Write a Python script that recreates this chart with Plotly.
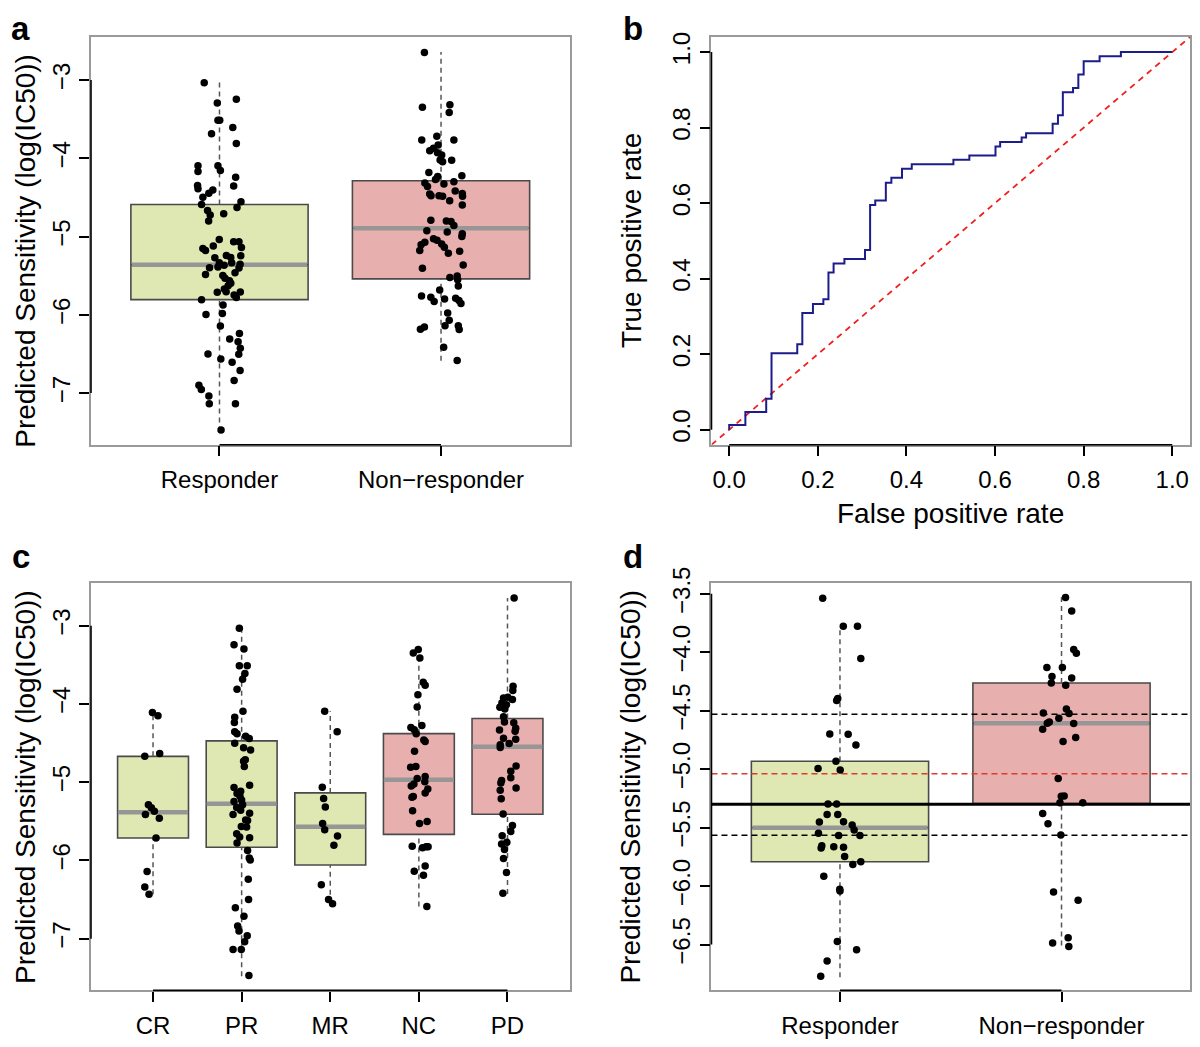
import plotly.graph_objects as go

# The page body has an 8px margin: the figure is sized to fit inside the window without scrolling
OFF = 8
FW, FH = 1200 - 2 * OFF, 1047 - 2 * OFF
FONT = "Liberation Sans, Arial, Helvetica, sans-serif"

# ---------------- data ----------------
# Panel a : Responder vs Non-responder
a_labels = ["Responder", "Non\u2212responder"]
a_q1 = [-5.806, -5.540]
a_med = [-5.360, -4.893]
a_q3 = [-4.590, -4.287]
a_lo = [-7.49, -6.588]
a_hi = [-3.02, -2.642]

a_resp_y = [-3.034, -3.244, -3.294, -3.513, -3.513, -3.606, -3.686, -3.812, -4.094, -4.169,
            -4.094, -4.157, -4.241, -4.354, -4.346, -4.388, -4.405, -4.447, -4.497, -4.556,
            -4.628, -4.590, -4.666, -4.708, -4.725, -4.800, -5.036, -5.065, -5.065, -5.154,
            -5.120, -5.179, -5.141, -5.271, -5.242, -5.267, -5.246, -5.334, -5.368, -5.334,
            -5.355, -5.389, -5.397, -5.402, -5.461, -5.486, -5.498, -5.532, -5.566, -5.595,
            -5.629, -5.671, -5.705, -5.713, -5.709, -5.747, -5.780, -5.806, -5.873, -5.995,
            -5.982, -6.142, -6.239, -6.310, -6.344, -6.428, -6.504, -6.500, -6.563, -6.605,
            -6.710, -6.840, -6.899, -6.954, -7.038, -7.135, -7.135, -7.471]
a_resp_dx = [-0.069, 0.076, -0.010, -0.007, 0.001, 0.060, -0.036, 0.076, -0.097, -0.097,
             -0.007, 0.004, 0.073, 0.064, -0.099, -0.097, -0.030, -0.048, -0.075, 0.097,
             0.079, -0.081, -0.054, 0.019, -0.042, -0.049, -0.001, 0.064, 0.088, -0.075,
             -0.028, -0.063, 0.099, -0.021, 0.031, 0.051, 0.096, -0.001, 0.021, 0.055,
             0.093, -0.007, -0.045, 0.088, 0.070, -0.063, 0.015, 0.025, 0.045, 0.051,
             0.039, 0.022, 0.030, -0.010, 0.094, 0.066, 0.076, -0.081, 0.016, -0.061,
             0.013, 0.004, 0.090, 0.046, 0.084, 0.094, 0.087, -0.052, 0.006, 0.057,
             0.093, 0.066, -0.093, -0.082, -0.048, -0.046, 0.072, 0.007]

a_non_y = [-2.647, -3.349, -3.315, -3.416, -3.766, -3.719, -3.766, -3.829, -3.871, -3.904,
           -3.930, -3.959, -4.022, -4.043, -4.026, -4.182, -4.232, -4.224, -4.270, -4.317,
           -4.329, -4.300, -4.359, -4.418, -4.451, -4.455, -4.480, -4.480, -4.484, -4.484,
           -4.543, -4.598, -4.792, -4.800, -4.809, -4.859, -4.926, -4.943, -4.964, -4.998,
           -5.027, -5.048, -5.074, -5.103, -5.095, -5.137, -5.179, -5.212, -5.187, -5.406,
           -5.364, -5.524, -5.503, -5.553, -5.633, -5.683, -5.759, -5.776, -5.831, -5.797,
           -5.788, -5.818, -5.856, -5.978, -6.070, -6.138, -6.138, -6.188, -6.184, -6.155,
           -6.415, -6.584]
a_non_dx = [-0.075, -0.084, 0.040, 0.037, -0.087, -0.019, 0.058, -0.013, -0.034, -0.051,
            -0.016, 0.003, -0.004, 0.007, 0.048, -0.055, -0.015, 0.094, -0.025, -0.073,
            0.013, 0.058, -0.061, 0.064, 0.096, -0.051, -0.045, -0.009, 0.007, 0.097,
            0.039, 0.096, -0.046, 0.024, 0.045, 0.058, -0.064, 0.028, 0.096, 0.094,
            -0.034, -0.018, -0.073, -0.090, 0.003, 0.015, -0.096, 0.033, 0.084, -0.084,
            0.100, 0.040, 0.073, 0.075, 0.078, -0.006, -0.088, -0.046, -0.031, 0.016,
            0.066, 0.081, 0.090, 0.030, 0.037, 0.018, 0.078, 0.082, -0.093, -0.075,
            0.012, 0.073]

# Panel b : ROC curve (step corners)
roc_fpr = [0.0, 0.0, 0.0365, 0.0835, 0.0955, 0.1536, 0.165, 0.189, 0.2125, 0.224, 0.2356,
           0.260, 0.3065, 0.318, 0.3296, 0.3535, 0.366, 0.390, 0.412, 0.506, 0.542, 0.601,
           0.6115, 0.660, 0.670, 0.730, 0.742, 0.753, 0.776, 0.788, 0.800, 0.836, 0.884, 1.0]
roc_tpr = [0.0, 0.012, 0.047, 0.082, 0.2025, 0.226, 0.309, 0.333, 0.3455, 0.416, 0.44,
           0.452, 0.476, 0.595, 0.607, 0.654, 0.667, 0.691, 0.703, 0.715, 0.726, 0.750,
           0.762, 0.774, 0.785, 0.810, 0.833, 0.8935, 0.905, 0.941, 0.976, 0.989, 1.0, 1.0]

# Panel c : response categories
c_labels = ["CR", "PR", "MR", "NC", "PD"]
c_q1 = [-5.713, -5.831, -6.058, -5.667, -5.410]
c_med = [-5.385, -5.276, -5.570, -4.968, -4.548]
c_q3 = [-4.670, -4.472, -5.137, -4.380, -4.186]
c_lo = [-6.432, -7.48, -6.554, -6.588, -6.428]
c_hi = [-4.094, -3.034, -4.094, -3.303, -2.647]

c_cr_y = [-4.110, -4.152, -4.670, -4.632, -5.288, -5.326, -5.372, -5.414, -5.461, -5.713,
          -6.142, -6.340, -6.432]
c_cr_dx = [-0.007, 0.056, -0.093, 0.075, -0.052, -0.019, 0.015, -0.086, 0.071, 0.034,
           -0.067, -0.093, -0.045]
c_pr_y = [-3.034, -3.244, -3.299, -3.513, -3.513, -3.610, -3.686, -3.812, -4.094, -4.169,
          -4.237, -4.354, -4.380, -4.413, -4.443, -4.502, -4.560, -4.590, -4.712, -4.733,
          -4.800, -5.040, -5.069, -5.116, -5.145, -5.246, -5.179, -5.229, -5.288, -5.322,
          -5.360, -5.414, -5.397, -5.482, -5.490, -5.566, -5.574, -5.658, -5.700, -5.709,
          -5.776, -5.873, -5.970, -5.995, -6.239, -6.500, -6.605, -6.714, -6.836, -6.903,
          -6.962, -7.038, -7.139, -7.139, -7.471]
c_pr_dx = [-0.026, -0.086, 0.026, -0.026, 0.063, 0.037, 0.011, -0.052, 0.015, -0.078,
           -0.082, -0.078, -0.052, 0.045, 0.086, -0.078, 0.022, 0.101, 0.041, 0.022,
           0.030, 0.090, -0.086, -0.011, -0.052, -0.086, -0.019, 0.000, 0.011, -0.056,
           -0.011, -0.097, 0.090, 0.045, 0.067, -0.004, 0.056, -0.056, -0.022, 0.090,
           -0.052, 0.067, 0.086, 0.097, 0.075, 0.078, -0.071, 0.026, -0.045, -0.030,
           0.063, 0.034, -0.097, -0.004, 0.082]
c_mr_y = [-4.094, -4.354, -5.065, -5.208, -5.318, -5.528, -5.608, -5.688, -5.806, -6.310,
          -6.500, -6.554]
c_mr_dx = [-0.063, 0.078, -0.090, -0.075, -0.056, -0.086, -0.063, 0.082, 0.041, -0.101,
           -0.019, 0.026]
c_nc_y = [-3.349, -3.303, -3.412, -3.723, -3.761, -3.883, -4.039, -4.274, -4.300, -4.329,
          -4.380, -4.460, -4.481, -4.603, -4.809, -4.800, -4.952, -4.926, -4.994, -5.048,
          -5.023, -5.086, -5.137, -5.183, -5.191, -5.364, -5.528, -5.503, -5.818, -5.839,
          -5.826, -5.826, -6.070, -6.138, -6.188, -6.588]
c_nc_dx = [-0.063, -0.007, 0.011, 0.049, 0.071, -0.011, -0.019, 0.034, -0.090, -0.052,
           -0.030, 0.056, 0.071, -0.049, -0.093, -0.034, -0.019, 0.071, 0.067, -0.086,
           -0.056, 0.101, 0.071, -0.063, -0.078, -0.071, 0.007, 0.093, -0.075, 0.041,
           0.082, 0.104, 0.071, -0.052, 0.052, 0.090]
c_pd_y = [-2.647, -3.774, -3.829, -3.925, -3.913, -3.942, -3.988, -4.009, -4.043, -4.064,
          -4.165, -4.232, -4.241, -4.312, -4.333, -4.350, -4.438, -4.451, -4.506, -4.523,
          -4.556, -4.792, -4.859, -4.977, -5.010, -4.943, -5.074, -5.103, -5.212, -5.406,
          -5.553, -5.629, -5.683, -5.768, -5.789, -5.860, -5.974, -6.155, -6.420]
c_pd_dx = [0.075, 0.063, 0.060, -0.045, 0.004, 0.056, -0.063, -0.011, -0.086, -0.030,
           -0.045, -0.034, 0.071, 0.093, -0.090, 0.086, -0.045, 0.093, 0.019, -0.082,
           -0.082, 0.097, 0.037, -0.067, -0.075, 0.037, 0.097, -0.082, -0.071, -0.049,
           0.056, 0.037, -0.060, -0.007, -0.067, -0.034, -0.045, -0.011, -0.052]

# Panel d : validation cohort
d_labels = ["Responder", "Non\u2212responder"]
d_q1 = [-5.792, -5.294]
d_med = [-5.500, -4.608]
d_q3 = [-4.932, -4.263]
d_lo = [-6.78, -6.508]
d_hi = [-3.78, -3.529]
d_cut_solid = -5.30
d_cut_red = -5.04
d_cut_dashed = [-4.531, -5.565]

d_resp_y = [-3.537, -3.777, -3.777, -4.054, -4.395, -4.412, -4.698, -4.701, -4.794, -4.932,
            -4.994, -5.006, -5.297, -5.297, -5.387, -5.387, -5.452, -5.449, -5.477, -5.520,
            -5.548, -5.568, -5.568, -5.655, -5.675, -5.664, -5.667, -5.746, -5.816, -5.791,
            -5.915, -6.042, -6.028, -6.475, -6.545, -6.641, -6.771]
d_resp_dx = [-0.078, 0.015, 0.079, 0.094, -0.010, -0.015, -0.046, 0.037, 0.072, -0.018,
             -0.099, 0.001, -0.054, -0.015, -0.058, -0.010, -0.093, 0.016, 0.055, 0.064,
             -0.097, -0.006, 0.090, -0.082, -0.085, -0.028, 0.016, 0.021, 0.058, 0.094,
             -0.073, 0.000, -0.001, -0.012, 0.075, -0.058, -0.087]
d_non_y = [-3.531, -3.647, -3.975, -4.008, -4.130, -4.130, -4.206, -4.220, -4.263, -4.282,
           -4.486, -4.523, -4.520, -4.565, -4.596, -4.607, -4.610, -4.658, -4.729, -4.763,
           -5.079, -5.232, -5.229, -5.288, -5.288, -5.379, -5.466, -5.562, -6.051, -6.121,
           -6.486, -6.441, -6.517]
d_non_dx = [0.018, 0.046, 0.055, 0.067, -0.066, 0.004, -0.043, 0.046, -0.046, 0.019,
            0.022, 0.034, -0.082, -0.012, -0.055, -0.064, 0.055, -0.085, 0.064, 0.007,
            -0.015, -0.001, 0.012, -0.007, 0.096, -0.085, -0.061, -0.003, -0.036, 0.075,
            -0.040, 0.030, 0.033]

# ---------------- styles ----------------
GREEN = "#dfe8b2"
PINK = "#e8afaf"
BOX_LINE = "#4a4a4a"
MED = "#969696"
FRAME = "#9a9a9a"
BOXW = 0.8

# layout positions given in reference pixels, mapped gently into the visible page area
SX = (1190 - 91) / (1198 - 91)
SY = (1037 - 37) / (1045 - 37)


def px(x):
    page = 91 + (x - 91) * SX
    return (page - OFF) / FW


def py(y):
    page = 37 + (y - 37) * SY
    return 1 - (page - OFF) / FH


XDOM_L = [px(91), px(573)]
XDOM_R = [px(716), px(1198)]
YDOM_T = [py(448), py(37)]
YDOM_B = [py(998), py(587)]

RA_X = [0.42, 2.58]
RA_Y = [-7.66, -2.45]
RB = [-0.04, 1.04]
RC_X = [0.3, 5.7]
RD_Y = [-6.892, -3.404]

fig = go.Figure()


def add_boxes(xa, ya, q1, med, q3, lo, hi, colors):
    for i in range(len(q1)):
        pos = i + 1
        fig.add_trace(go.Scatter(x=[pos, pos, None, pos, pos], y=[lo[i], q1[i], None, q3[i], hi[i]],
                                 mode="lines", line=dict(color="#555555", width=1.5, dash="5px,4px"),
                                 xaxis=xa, yaxis=ya, showlegend=False, hoverinfo="skip"))
        fig.add_trace(go.Box(x=[pos], q1=[q1[i]], median=[med[i]], q3=[q3[i]],
                             lowerfence=[q1[i]], upperfence=[q3[i]], width=BOXW,
                             fillcolor=colors[i], line=dict(color=BOX_LINE, width=1.6),
                             whiskerwidth=0, boxpoints=False, xaxis=xa, yaxis=ya,
                             showlegend=False, hoverinfo="skip"))
        fig.add_trace(go.Scatter(x=[pos - BOXW / 2 + 0.005, pos + BOXW / 2 - 0.005], y=[med[i], med[i]],
                                 mode="lines", line=dict(color=MED, width=4.5),
                                 xaxis=xa, yaxis=ya, showlegend=False, hoverinfo="skip"))


def add_points(xa, ya, pos, dx, y):
    fig.add_trace(go.Scatter(x=[pos + d for d in dx], y=y, mode="markers",
                             marker=dict(color="black", size=7.5, line=dict(width=0)),
                             xaxis=xa, yaxis=ya, showlegend=False, hoverinfo="skip"))


# Panel a
add_boxes("x", "y", a_q1, a_med, a_q3, a_lo, a_hi, [GREEN, PINK])
add_points("x", "y", 1, a_resp_dx, a_resp_y)
add_points("x", "y", 2, a_non_dx, a_non_y)

# Panel b
fig.add_trace(go.Scatter(x=RB, y=RB, mode="lines", line=dict(color="#ee2020", width=1.8, dash="6px,5px"),
                         xaxis="x2", yaxis="y2", showlegend=False, hoverinfo="skip"))
fig.add_trace(go.Scatter(x=roc_fpr, y=roc_tpr, mode="lines", line=dict(color="#1c1c8a", width=2, shape="hv"),
                         xaxis="x2", yaxis="y2", showlegend=False, hoverinfo="skip"))

# Panel c
add_boxes("x3", "y3", c_q1, c_med, c_q3, c_lo, c_hi, [GREEN, GREEN, GREEN, PINK, PINK])
for p, dx, y in [(1, c_cr_dx, c_cr_y), (2, c_pr_dx, c_pr_y), (3, c_mr_dx, c_mr_y),
                 (4, c_nc_dx, c_nc_y), (5, c_pd_dx, c_pd_y)]:
    add_points("x3", "y3", p, dx, y)

# Panel d
add_boxes("x4", "y4", d_q1, d_med, d_q3, d_lo, d_hi, [GREEN, PINK])
for v in d_cut_dashed:
    fig.add_trace(go.Scatter(x=RA_X, y=[v, v], mode="lines", line=dict(color="black", width=1.5, dash="6px,4px"),
                             xaxis="x4", yaxis="y4", showlegend=False, hoverinfo="skip"))
fig.add_trace(go.Scatter(x=RA_X, y=[d_cut_red, d_cut_red], mode="lines",
                         line=dict(color="#e03a2e", width=1.5, dash="6px,4px"),
                         xaxis="x4", yaxis="y4", showlegend=False, hoverinfo="skip"))
fig.add_trace(go.Scatter(x=RA_X, y=[d_cut_solid, d_cut_solid], mode="lines",
                         line=dict(color="black", width=2.8),
                         xaxis="x4", yaxis="y4", showlegend=False, hoverinfo="skip"))
add_points("x4", "y4", 1, d_resp_dx, d_resp_y)
add_points("x4", "y4", 2, d_non_dx, d_non_y)

# ---------------- axes ----------------
TICKFONT = dict(family=FONT, size=24, color="black")
common = dict(showline=True, linecolor=FRAME, linewidth=1.5, mirror=True, ticks="outside",
              ticklen=10, tickwidth=1.5, tickcolor="black", showgrid=False, zeroline=False,
              tickfont=TICKFONT, fixedrange=True, automargin=False)
xcommon = dict(common, ticklabelstandoff=3)
ycommon = dict(common, tickangle=-90, ticklabelstandoff=0)

a_ticks = [-3, -4, -5, -6, -7]
b_ticks = [0.0, 0.2, 0.4, 0.6, 0.8, 1.0]
d_ticks = [-3.5, -4.0, -4.5, -5.0, -5.5, -6.0, -6.5]

fig.update_layout(
    width=FW, height=FH, margin=dict(l=0, r=0, t=0, b=0, pad=0),
    paper_bgcolor="white", plot_bgcolor="white", boxmode="overlay",
    xaxis=dict(xcommon, domain=XDOM_L, anchor="y", range=RA_X, tickvals=[1, 2], ticktext=a_labels),
    yaxis=dict(ycommon, domain=YDOM_T, anchor="x", range=RA_Y, tickvals=a_ticks,
               ticktext=["\u2212" + str(-t) for t in a_ticks]),
    xaxis2=dict(xcommon, domain=XDOM_R, anchor="y2", range=RB, tickvals=b_ticks,
                ticktext=[f"{t:.1f}" for t in b_ticks]),
    yaxis2=dict(ycommon, domain=YDOM_T, anchor="x2", range=RB, tickvals=b_ticks,
                ticktext=[f"{t:.1f}" for t in b_ticks]),
    xaxis3=dict(xcommon, domain=XDOM_L, anchor="y3", range=RC_X, tickvals=[1, 2, 3, 4, 5],
                ticktext=c_labels),
    yaxis3=dict(ycommon, domain=YDOM_B, anchor="x3", range=RA_Y, tickvals=a_ticks,
                ticktext=["\u2212" + str(-t) for t in a_ticks]),
    xaxis4=dict(xcommon, domain=XDOM_R, anchor="y4", range=RA_X, tickvals=[1, 2], ticktext=d_labels),
    yaxis4=dict(ycommon, domain=YDOM_B, anchor="x4", range=RD_Y, tickvals=d_ticks,
                ticktext=["\u2212" + f"{-t:.1f}" for t in d_ticks]),
)


def to_paper(v, rng, dom):
    return dom[0] + (v - rng[0]) / (rng[1] - rng[0]) * (dom[1] - dom[0])


# black axis segments spanning first..last tick (R style)
shapes = []
for xdom, ydom, xr, yr, xt, yt in [
    (XDOM_L, YDOM_T, RA_X, RA_Y, [1, 2], a_ticks),
    (XDOM_R, YDOM_T, RB, RB, b_ticks, b_ticks),
    (XDOM_L, YDOM_B, RC_X, RA_Y, [1, 2, 3, 4, 5], a_ticks),
    (XDOM_R, YDOM_B, RA_X, RD_Y, [1, 2], d_ticks),
]:
    shapes.append(dict(type="line", xref="paper", yref="paper", x0=xdom[0], x1=xdom[0],
                       y0=to_paper(min(yt), yr, ydom), y1=to_paper(max(yt), yr, ydom),
                       line=dict(color="black", width=1.6)))
    shapes.append(dict(type="line", xref="paper", yref="paper", y0=ydom[0], y1=ydom[0],
                       x0=to_paper(min(xt), xr, xdom), x1=to_paper(max(xt), xr, xdom),
                       line=dict(color="black", width=1.6)))
fig.update_layout(shapes=shapes)

# ---------------- titles and panel letters ----------------
YTITLE = "Predicted Sensitivity (log(IC50))"
ann = [
    (YTITLE, px(25), py(252), -90, 28),
    ("True positive rate", px(636), sum(YDOM_T) / 2, -90, 28),
    ("False positive rate", sum(XDOM_R) / 2, py(517), 0, 28),
    (YTITLE, px(25), sum(YDOM_B) / 2, -90, 28),
    (YTITLE, px(634), sum(YDOM_B) / 2, -90, 28),
]
annotations = []
for text, x, y, ang, size in ann:
    annotations.append(dict(text=text, x=x, y=y, textangle=ang, xref="paper", yref="paper",
                            xanchor="center", yanchor="middle", showarrow=False,
                            font=dict(family=FONT, size=size, color="black")))
LETTERFONT = dict(family=FONT, size=33, color="black")
# top-row letters anchored to the top edge of the figure so they are not clipped
for letter, x in [("a", 20), ("b", 637)]:
    annotations.append(dict(text=f"<b>{letter}</b>", x=px(x), y=1.0, xref="paper", yref="paper",
                            xanchor="center", yanchor="top", showarrow=False, font=LETTERFONT))
for letter, x, y in [("c", 20, 561), ("d", 637, 561)]:
    annotations.append(dict(text=f"<b>{letter}</b>", x=px(x), y=py(y), xref="paper", yref="paper",
                            xanchor="center", yanchor="middle", showarrow=False, font=LETTERFONT))
fig.update_layout(annotations=annotations)

fig.write_html("out.html")
